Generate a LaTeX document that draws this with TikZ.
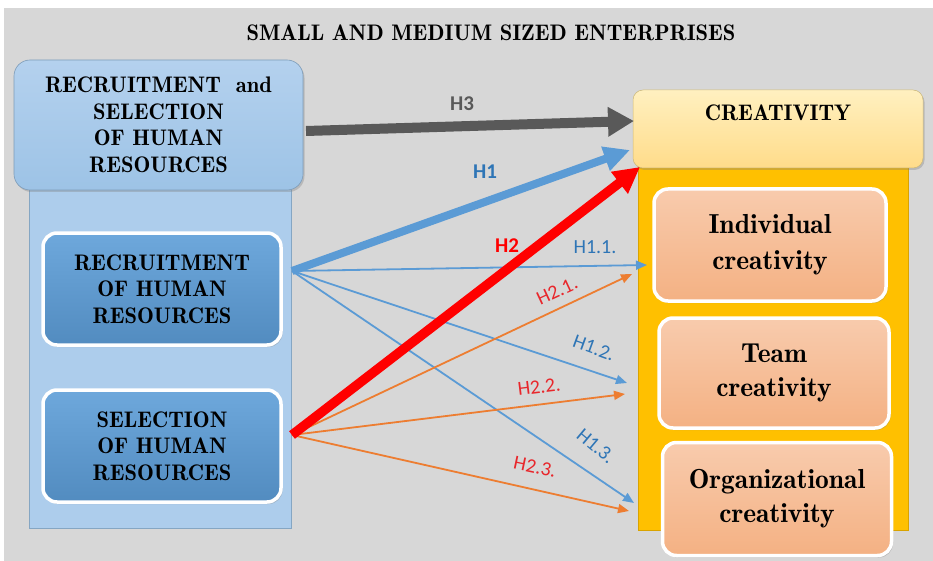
\documentclass[tikz,border=0pt]{standalone}
\usepackage{fontspec}
\newfontfamily\labfont{Carlito}
\newfontfamily\serfont{Latin Modern Roman Demi}
\usetikzlibrary{arrows.meta,shadows}
\definecolor{bggray}{HTML}{D7D7D7}
\definecolor{colblue}{HTML}{9DC3E6}
\definecolor{colbluetop}{HTML}{B4D1EE}
\definecolor{midblue}{HTML}{5B9BD5}
\definecolor{midbluetop}{HTML}{6EA8DC}
\definecolor{hdryel}{HTML}{FFE699}
\definecolor{hdryeltop}{HTML}{FFF0C0}
\definecolor{colyel}{HTML}{FFC000}
\definecolor{salmon}{HTML}{F4B183}
\definecolor{salmontop}{HTML}{F8CBAD}
\definecolor{arrgray}{HTML}{595959}
\definecolor{arrblue}{HTML}{5B9BD5}
\definecolor{labblue}{HTML}{2E75B6}
\definecolor{arrorange}{HTML}{ED7D31}
\definecolor{labred}{HTML}{E8262B}
\tikzset{
  bigtxt/.style={font=\serfont\fontsize{22.5}{26.5}\selectfont, align=center, text=black},
  smalltxt/.style={font=\serfont\fontsize{27.5}{34}\selectfont, align=center, text=black},
  topbox/.style={rounded corners=16pt, top color=colbluetop, bottom color=colblue, draw=colblue!80!black, line width=0.6pt,
     drop shadow={shadow xshift=1.5pt, shadow yshift=-2pt, opacity=0.35}},
  bluebox/.style={rounded corners=14pt, top color=midbluetop, bottom color=midblue!90!black, draw=white, line width=3.5pt,
     drop shadow={shadow xshift=1.5pt, shadow yshift=-2pt, opacity=0.35}},
  hdrbox/.style={rounded corners=10pt, top color=hdryeltop, bottom color=hdryel!90!orange, draw=hdryel!80!black, line width=0.5pt,
     drop shadow={shadow xshift=1.5pt, shadow yshift=-2pt, opacity=0.35}},
  salbox/.style={rounded corners=14pt, top color=salmontop, bottom color=salmon, draw=white, line width=3.5pt,
     drop shadow={shadow xshift=1.5pt, shadow yshift=-2pt, opacity=0.35}},
  thinblue/.style={draw=arrblue, line width=1.8pt, -{Triangle[length=11pt,width=9pt]}},
  thinorange/.style={draw=arrorange, line width=1.8pt, -{Triangle[length=11pt,width=9pt]}},
  hlab/.style={font=\labfont\fontsize{20}{22}\selectfont},
  hbig/.style={font=\labfont\bfseries\fontsize{21}{23}\selectfont},
}
\begin{document}
\begin{tikzpicture}[x=1pt,y=-1pt]
\useasboundingbox (0,0) rectangle (933,561);
\fill[white] (0,0) rectangle (933,561);
\fill[bggray] (4,8) rectangle (933,561);
\node[font=\serfont\fontsize{22.5}{26}\selectfont] (title) at (491,33) {SMALL AND MEDIUM SIZED ENTERPRISES};
% left column
\fill[colbluetop!70!colblue, draw=colblue!85!black, line width=0.6pt] (29,150) rectangle (291,528);
\node[topbox, bigtxt, minimum width=289pt, minimum height=130pt] (rs) at (158.5,125) {RECRUITMENT\ \ and\\SELECTION\\OF HUMAN\\RESOURCES};
\node[bluebox, bigtxt, minimum width=238pt, minimum height=112pt] (rec) at (162,289) {RECRUITMENT\\OF HUMAN\\RESOURCES};
\node[bluebox, bigtxt, minimum width=238pt, minimum height=112pt] (sel) at (162,446) {SELECTION\\OF HUMAN\\RESOURCES};
% right column
\fill[colyel, draw=colyel!85!black, line width=0.5pt] (638,150) rectangle (908,530);
\node[hdrbox, minimum width=290pt, minimum height=78pt] (hdr) at (778,129) {};
\node[bigtxt] (hdrtext) at (778,113) {CREATIVITY};
\node[salbox, smalltxt, minimum width=232pt, minimum height=112pt] (ind) at (770,245) {Individual\\[2pt]creativity};
\node[salbox, smalltxt, minimum width=230pt, minimum height=110pt] (team) at (774,373) {Team\\creativity};
\node[salbox, smalltxt, minimum width=229pt, minimum height=113pt] (org) at (777,499) {Organizational\\creativity};
% connector endpoints
\coordinate (h3s) at (306,131);
\coordinate (h3e) at (634,121);
\coordinate (rsrc) at (292,271);
\coordinate (ssrc) at (292,435);
\coordinate (h1e) at (630,150);
\coordinate (h2e) at (640,167);
\coordinate (t11) at (647,265);
\coordinate (t12) at (627,383);
\coordinate (t13) at (634,503);
\coordinate (t21) at (632,274);
\coordinate (t22) at (625,394);
\coordinate (t23) at (629,511);
% thin arrows
\draw[thinblue] (rsrc) -- (t11);
\draw[thinblue] (rsrc) -- (t12);
\draw[thinblue] (rsrc) -- (t13);
\draw[thinorange] (ssrc) -- (t21);
\draw[thinorange] (ssrc) -- (t22);
\draw[thinorange] (ssrc) -- (t23);
% thick arrows
\draw[draw=arrgray, line width=10pt, -{Triangle[length=26pt,width=28pt]}] (h3s) -- (h3e);
\draw[draw=arrblue, line width=8pt, -{Triangle[length=26pt,width=24pt]}] (rsrc) -- (h1e);
\draw[draw=red, line width=9.5pt, -{Triangle[length=26pt,width=26pt]}] (ssrc) -- (h2e);
% labels
\node[text=arrgray, font=\labfont\bfseries\fontsize{21}{23}\selectfont] (lh3) at (462,104) {H3};
\node[hbig, text=labblue] (lh1) at (485,172) {H1};
\node[hbig, text=red] (lh2) at (507,246) {H2};
\node[hlab, text=labblue] (l11) at (595,247) {H1.1.};
\node[hlab, text=labblue, rotate=-20] (l12) at (594,348) {H1.2.};
\node[hlab, text=labblue, rotate=-40] (l13) at (596,446) {H1.3.};
\node[hlab, text=labred, rotate=25] (l21) at (557,291) {H2.1.};
\node[hlab, text=labred, rotate=7] (l22) at (539,387) {H2.2.};
\node[hlab, text=labred, rotate=-12] (l23) at (535,467) {H2.3.};
\end{tikzpicture}
\end{document}
